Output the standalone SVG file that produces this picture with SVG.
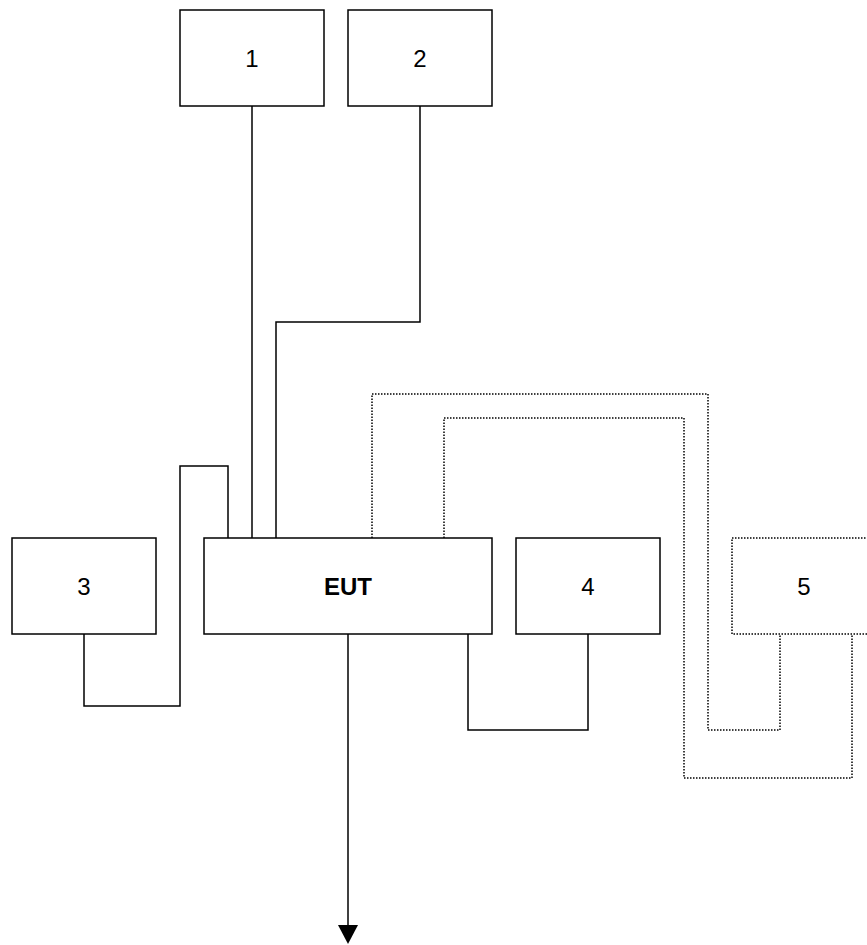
<svg xmlns="http://www.w3.org/2000/svg" width="867" height="945" viewBox="0 0 867 945">
<style>
.box{fill:#fff;stroke:#000;stroke-width:1.5}
.dbox{fill:#fff;stroke:#000;stroke-width:1.5;stroke-dasharray:1.5 1.5}
.ln{fill:none;stroke:#000;stroke-width:1.5}
.dl{fill:none;stroke:#000;stroke-width:1.5;stroke-dasharray:1.5 1.5}
text{font-family:"Liberation Sans",Arial,sans-serif;font-size:24px;text-anchor:middle;fill:#000}
.b{font-weight:bold}
</style>
<g id="connectors">
<polyline class="ln" points="252,106 252,538"/>
<polyline class="ln" points="420,106 420,322 276,322 276,538"/>
<polyline class="ln" points="84,634 84,706 180,706 180,466 228,466 228,538"/>
<polyline class="ln" points="468,634 468,730 588,730 588,634"/>
<polyline class="dl" points="372,538 372,394 708,394 708,730 780,730 780,634"/>
<polyline class="dl" points="444,538 444,418 684,418 684,778 852,778 852,634"/>
<line class="ln" x1="348" y1="634" x2="348" y2="926"/>
<polygon points="338,925 358,925 348,944" fill="#000"/>
</g>
<g id="n1"><rect class="box" x="180" y="10" width="144" height="96"/><text x="252" y="67">1</text></g>
<g id="n2"><rect class="box" x="348" y="10" width="144" height="96"/><text x="420" y="67">2</text></g>
<g id="n3"><rect class="box" x="12" y="538" width="144" height="96"/><text x="84" y="595">3</text></g>
<g id="eut"><rect class="box" x="204" y="538" width="288" height="96"/><text class="b" x="348" y="595">EUT</text></g>
<g id="n4"><rect class="box" x="516" y="538" width="144" height="96"/><text x="588" y="595">4</text></g>
<g id="n5"><rect class="dbox" x="732" y="538" width="144" height="96"/><text x="804" y="595">5</text></g>
</svg>
